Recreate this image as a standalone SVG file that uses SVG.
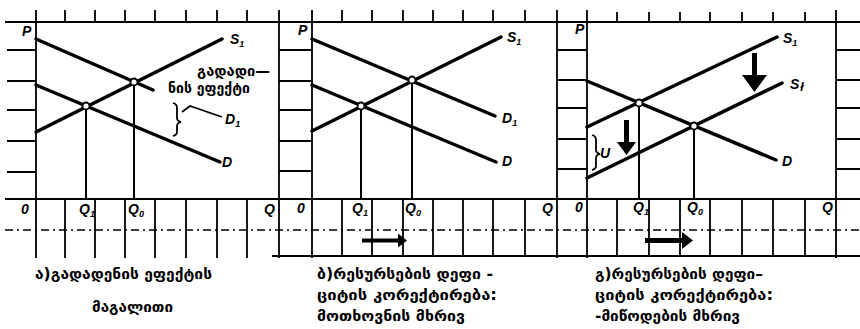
<svg xmlns="http://www.w3.org/2000/svg" width="860" height="329" viewBox="0 0 860 329">
<defs>
<style>
.g{stroke:#000;stroke-width:2;fill:none}
.t{stroke:#000;stroke-width:1.8;fill:none}
.d{stroke:#000;stroke-width:1.6;fill:none;stroke-dasharray:8 4 2 4}
.c{stroke:#000;stroke-width:3.5;fill:none;stroke-linecap:round}
.v{stroke:#000;stroke-width:2;fill:none}
.pt{fill:#fff;stroke:#000;stroke-width:1.8}
.lb{font-family:"Liberation Sans",Arial,sans-serif;font-weight:bold;font-style:italic;font-size:14px;fill:#000}
.sb{font-size:9px}
.ka{font-family:"DejaVu Sans","Noto Sans",sans-serif;font-weight:bold;font-size:15px;fill:#000}
.ar{fill:#000;stroke:none}
</style>
</defs>
<rect width="860" height="329" fill="#fff"/>

<g id="grid">
<line class="g" x1="5" y1="22" x2="860" y2="22"/>
<line class="g" x1="5" y1="199" x2="860" y2="199"/>
<line class="d" x1="5" y1="230" x2="860" y2="230"/>
<line class="t" x1="272" y1="256" x2="860" y2="256"/>
<path class="t" d="M36,10V258M65,10V22M95,10V22M125,10V22M155,10V22M186,10V22M217,10V22M247,10V22M279,10V258
M65,199V258M95,199V258M125,199V258M155,199V258M186,199V258M217,199V258M247,199V258"/>
<path class="t" d="M312,10V258M342,10V22M372,10V22M403,10V22M433,10V22M463,10V22M493,10V22M525,10V22M557,10V258
M342,199V256M372,199V256M403,199V256M433,199V256M463,199V256M493,199V256M525,199V256"/>
<path class="t" d="M587,10V258M617,12V22M649,12V22M680,12V22M710,12V22M742,12V22M773,12V22M805,12V22M836,10V258
M617,199V256M649,199V256M680,199V256M710,199V256M742,199V256M773,199V256M805,199V256"/>
<path class="t" d="M7,50H36M7,81H36M7,110H36M7,141H36M7,172H36
M279,50H312M279,81H312M279,110H312M279,141H312M279,171H312
M557,50H587M557,80H587M557,108H587M557,139H587M557,169H587
M836,50H860M836,80H860M836,108H860M836,139H860M836,169H860"/>
</g>

<g id="panel-a">
<line class="c" x1="36" y1="39" x2="153" y2="90"/>
<line class="c" x1="36" y1="132" x2="222" y2="39"/>
<line class="c" x1="36" y1="85" x2="220" y2="162"/>
<line class="v" x1="86" y1="106" x2="86" y2="199"/>
<line class="v" x1="134" y1="82" x2="134" y2="199"/>
<circle class="pt" cx="86" cy="106" r="3.5"/>
<circle class="pt" cx="134" cy="82" r="3.5"/>
<path class="t" d="M173,103q4,1 4,5v10q0,3 4,4q-4,1 -4,4v6q0,3 -4,4"/>
<polyline class="t" points="182,112 190,106 222,117"/>
<text class="lb" x="22" y="36">P</text>
<text class="lb" x="21" y="214" font-style="normal">0</text>
<text class="lb" x="79" y="214">Q<tspan class="sb" dy="3">1</tspan></text>
<text class="lb" x="128" y="214">Q<tspan class="sb" dy="3">0</tspan></text>
<text class="lb" x="264" y="214">Q</text>
<text class="lb" x="230" y="44">S<tspan class="sb" dy="3">1</tspan></text>
<text class="lb" x="225" y="124">D<tspan class="sb" dy="3">1</tspan></text>
<text class="lb" x="222" y="167">D</text>
<text class="ka" x="197" y="76" textLength="73" lengthAdjust="spacingAndGlyphs">გადადი—</text>
<text class="ka" x="168" y="93" textLength="82" lengthAdjust="spacingAndGlyphs">ნის ეფექტი</text>
<text class="ka" x="35" y="279" textLength="177" lengthAdjust="spacingAndGlyphs">ა)გადადენის ეფექტის</text>
<text class="ka" x="92" y="312" textLength="81" lengthAdjust="spacingAndGlyphs">მაგალითი</text>
</g>

<g id="panel-b">
<line class="c" x1="312" y1="39" x2="495" y2="116"/>
<line class="c" x1="312" y1="131" x2="501" y2="37"/>
<line class="c" x1="312" y1="85" x2="496" y2="162"/>
<line class="v" x1="361" y1="106" x2="361" y2="199"/>
<line class="v" x1="412" y1="80" x2="412" y2="199"/>
<circle class="pt" cx="361" cy="106" r="3.5"/>
<circle class="pt" cx="412" cy="80" r="3.5"/>
<path class="ar" d="M362,238.5h36v-5l9,7-9,7v-5h-36z"/>
<text class="lb" x="298" y="35">P</text>
<text class="lb" x="297" y="213" font-style="normal">0</text>
<text class="lb" x="352" y="213">Q<tspan class="sb" dy="3">1</tspan></text>
<text class="lb" x="405" y="213">Q<tspan class="sb" dy="3">0</tspan></text>
<text class="lb" x="542" y="213">Q</text>
<text class="lb" x="507" y="42">S<tspan class="sb" dy="3">1</tspan></text>
<text class="lb" x="502" y="123">D<tspan class="sb" dy="3">1</tspan></text>
<text class="lb" x="502" y="166">D</text>
<text class="ka" x="317" y="279" textLength="176" lengthAdjust="spacingAndGlyphs">ბ)რესურსების დეფი -</text>
<text class="ka" x="317" y="300" textLength="180" lengthAdjust="spacingAndGlyphs">ციტის კორექტირება:</text>
<text class="ka" x="317" y="321" textLength="148" lengthAdjust="spacingAndGlyphs">მოთხოვნის მხრივ</text>
</g>

<g id="panel-c">
<line class="c" x1="587" y1="127" x2="777" y2="37"/>
<line class="c" x1="587" y1="178" x2="782" y2="83"/>
<line class="c" x1="587" y1="81" x2="776" y2="160"/>
<line class="v" x1="639" y1="103" x2="639" y2="199"/>
<line class="v" x1="694" y1="126" x2="694" y2="199"/>
<circle class="pt" cx="639" cy="103" r="3.5"/>
<circle class="pt" cx="694" cy="126" r="3.5"/>
<path class="ar" d="M752,53h5v22h10l-12.5,17-12.5-17h10z"/>
<path class="ar" d="M624,120h5v22h7l-9.5,13-9.5-13h7z"/>
<path class="t" d="M592,135q4,1 4,5v10q0,3 4,4q-4,1 -4,4v8q0,3 -4,4"/>
<text class="lb" x="600" y="158" font-size="12">U</text>
<path class="ar" d="M645,238h37v-6l11,8.5-11,8.5v-6h-37z"/>
<text class="lb" x="575" y="34">P</text>
<text class="lb" x="575" y="212" font-style="normal">0</text>
<text class="lb" x="633" y="212">Q<tspan class="sb" dy="3">1</tspan></text>
<text class="lb" x="687" y="212">Q<tspan class="sb" dy="3">0</tspan></text>
<text class="lb" x="822" y="212">Q</text>
<text class="lb" x="783" y="43">S<tspan class="sb" dy="3">1</tspan></text>
<text class="lb" x="790" y="89">S<tspan font-size="12" dx="1" dy="2">ł</tspan></text>
<text class="lb" x="782" y="166">D</text>
<text class="ka" x="595" y="279" textLength="168" lengthAdjust="spacingAndGlyphs">გ)რესურსების დეფი–</text>
<text class="ka" x="595" y="300" textLength="178" lengthAdjust="spacingAndGlyphs">ციტის კორექტირება:</text>
<text class="ka" x="595" y="321" textLength="145" lengthAdjust="spacingAndGlyphs">-მიწოდების მხრივ</text>
</g>
</svg>
